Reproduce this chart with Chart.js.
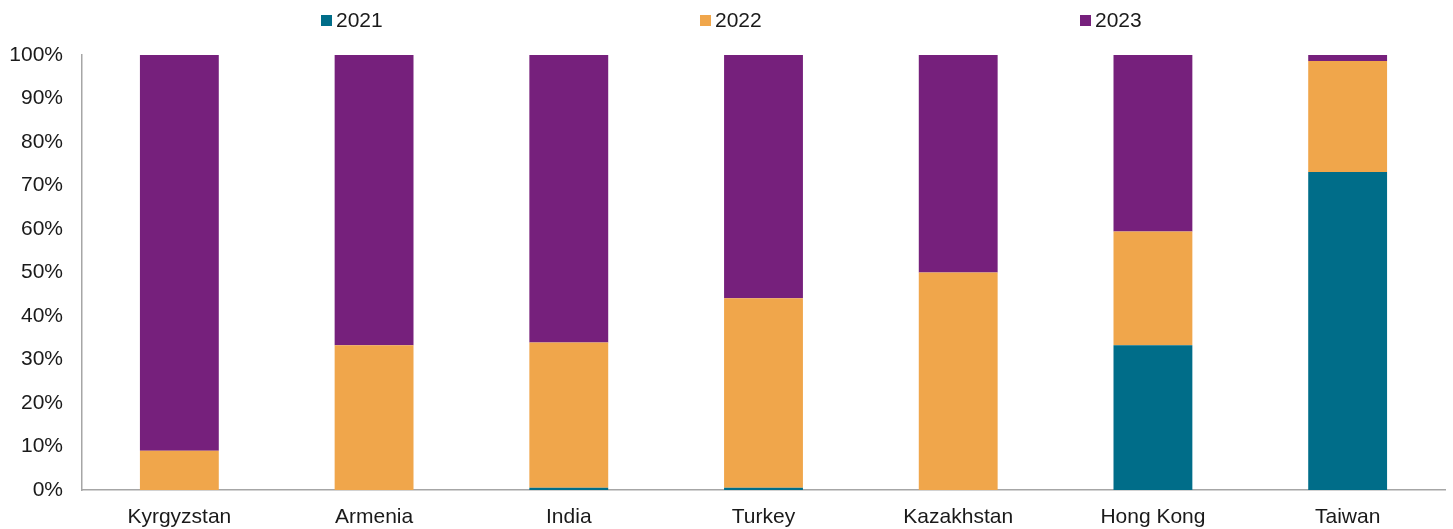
<!DOCTYPE html>
<html>
<head>
<meta charset="utf-8">
<script src="https://cdn.jsdelivr.net/npm/chart.js@4"></script>
<style>
  html, body { margin: 0; padding: 0; background: #fff; }
  #wrap { position: relative; width: 1453px; height: 529px; }
  #legend { position: absolute; top: 0; left: 0; width: 100%; height: 40px; font-family: "Liberation Sans", Arial, sans-serif; font-size: 21px; color: #1a1a1a; }
  .item { position: absolute; top: 8px; display: flex; align-items: center; }
  .swatch { width: 11px; height: 11px; margin-right: 4px; }
</style>
</head>
<body>
<div id="wrap">
  <div id="legend"></div>
  <canvas id="bar-chart" width="1453" height="529"></canvas>
</div>
<script>
// Share of each year, per country (percent)
const countries = ["Kyrgyzstan", "Armenia", "India", "Turkey", "Kazakhstan", "Hong Kong", "Taiwan"];
const years = ["2021", "2022", "2023"];
const share2021 = [0, 0, 0.5, 0.5, 0, 33.3, 73.1];
const share2022 = [9.0, 33.3, 33.4, 43.6, 50.0, 26.1, 25.5];
const share2023 = [91.0, 66.7, 66.1, 55.9, 50.0, 40.6, 1.4];
const yTicks = [0, 10, 20, 30, 40, 50, 60, 70, 80, 90, 100];

const colors = ["#006d89", "#f0a64b", "#76207c"];
const series = [share2021, share2022, share2023];

// legend row drawn as html, spread across the top
const legendX = [321, 700, 1080];
const legend = document.getElementById("legend");
years.forEach((y, i) => {
  const item = document.createElement("div");
  item.className = "item";
  item.style.left = legendX[i] + "px";
  item.innerHTML = `<span class="swatch" style="background:${colors[i]}"></span><span>${y}</span>`;
  legend.appendChild(item);
});

Chart.defaults.font.family = '"Liberation Sans", Arial, sans-serif';
Chart.defaults.font.size = 21;
Chart.defaults.color = "#1a1a1a";

new Chart(document.getElementById("bar-chart").getContext("2d"), {
  type: "bar",
  data: {
    labels: countries,
    datasets: years.map((y, i) => ({
      label: y,
      data: series[i],
      backgroundColor: colors[i],
      borderWidth: 0,
      categoryPercentage: 1,
      barPercentage: 0.405,
    })),
  },
  options: {
    responsive: false,
    animation: false,
    layout: { padding: { top: 55, right: 8, left: 0, bottom: 0 } },
    plugins: { legend: { display: false }, tooltip: { enabled: false } },
    scales: {
      x: {
        stacked: true,
        grid: { display: false, drawTicks: false },
        border: { color: "#a6a6a6", width: 1.5 },
        ticks: { padding: 15 },
        afterFit: (scale) => { scale.height = 39; },
      },
      y: {
        stacked: true,
        min: 0,
        max: 100,
        afterBuildTicks: (scale) => { scale.ticks = yTicks.map(v => ({ value: v })); },
        grid: { display: false, drawTicks: false },
        border: { color: "#a6a6a6", width: 1.5 },
        ticks: { padding: 19, callback: (v) => v + "%" },
        afterFit: (scale) => { scale.width = 82; },
      },
    },
  },
});
</script>
</body>
</html>
